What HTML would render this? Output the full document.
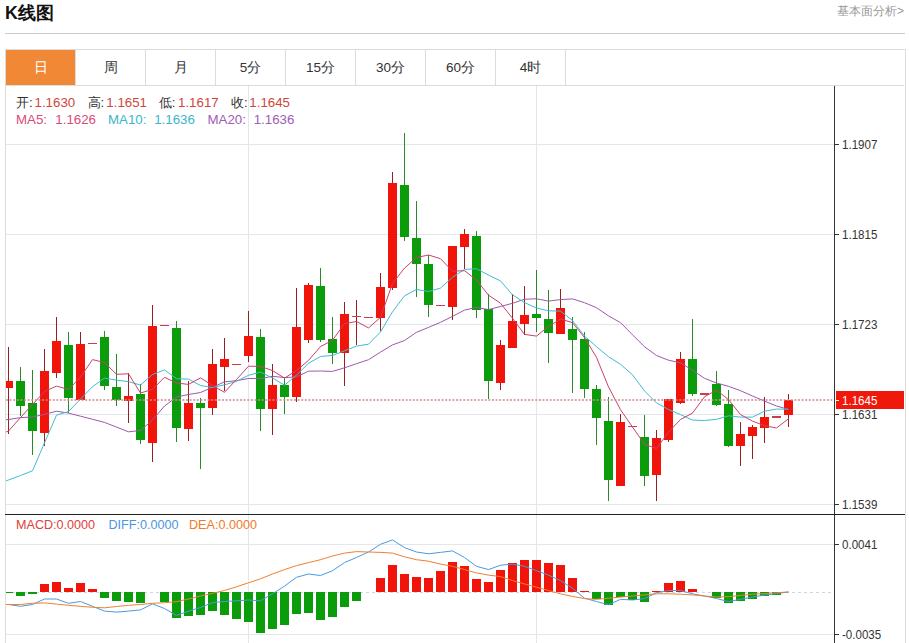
<!DOCTYPE html>
<html><head><meta charset="utf-8"><style>
html,body{margin:0;padding:0;background:#fff;width:909px;height:643px;overflow:hidden;position:relative;font-family:"Liberation Sans",sans-serif;}
.a{position:absolute;white-space:nowrap;line-height:1;}
#title{left:5px;top:4.5px;font-size:17.8px;font-weight:bold;color:#111;}
#more{left:837px;top:5px;font-size:12px;color:#999;}
#hr{position:absolute;left:5px;top:33px;width:900px;height:1px;background:#cacaca;}
#box{position:absolute;left:5px;top:49px;width:899px;height:600px;border:1px solid #dcdcdc;border-bottom:none;}
.tab{position:absolute;top:50px;height:35px;width:69px;border-right:1px solid #dcdcdc;text-align:center;line-height:35px;font-size:13.5px;color:#333;}
#tabline{position:absolute;left:6px;top:85px;width:898px;height:1px;background:#dcdcdc;}
.lg{font-size:13.3px;}
.ax{font-size:13px;color:#333;transform:scaleX(0.89);transform-origin:0 0;}
svg{position:absolute;left:0;top:0;}
</style></head><body>
<div class="a" id="title">K线图</div>
<div class="a" id="more">基本面分析&gt;</div>
<div id="hr"></div>
<div id="box"></div>
<div class="tab" style="left:6px;background:#f08836;color:#fff;">日</div>
<div class="tab" style="left:76px">周</div>
<div class="tab" style="left:146px">月</div>
<div class="tab" style="left:216px">5分</div>
<div class="tab" style="left:286px">15分</div>
<div class="tab" style="left:356px">30分</div>
<div class="tab" style="left:426px">60分</div>
<div class="tab" style="left:496px">4时</div>
<div id="tabline"></div>
<svg width="909" height="643" viewBox="0 0 909 643" shape-rendering="crispEdges">
<rect x="6" y="144" width="828" height="1" fill="#e3e6ea"/>
<rect x="6" y="234" width="828" height="1" fill="#e3e6ea"/>
<rect x="6" y="324" width="828" height="1" fill="#e3e6ea"/>
<rect x="6" y="414" width="828" height="1" fill="#e3e6ea"/>
<rect x="6" y="504" width="828" height="1" fill="#e3e6ea"/>
<rect x="6" y="544" width="828" height="1" fill="#e3e6ea"/>
<rect x="6" y="634" width="828" height="1" fill="#e3e6ea"/>
<rect x="248" y="86" width="1" height="557" fill="#e3e6ea"/>
<rect x="536" y="86" width="1" height="557" fill="#e3e6ea"/>
<clipPath id="cm"><rect x="6" y="86" width="828" height="428"/></clipPath>
<clipPath id="cd"><rect x="6" y="515" width="828" height="128"/></clipPath>
<g clip-path="url(#cm)">
<rect x="8.0" y="347.4" width="1" height="86.4" fill="#9a2020"/>
<rect x="4.0" y="381.3" width="9" height="6.3" fill="#f0140a"/>
<rect x="20.0" y="366.8" width="1" height="49.5" fill="#2a8a2a"/>
<rect x="16.0" y="381.3" width="9" height="24.5" fill="#0b9c0b"/>
<rect x="32.0" y="370.3" width="1" height="84.6" fill="#2a8a2a"/>
<rect x="28.0" y="402.8" width="9" height="28.2" fill="#0b9c0b"/>
<rect x="44.0" y="349.3" width="1" height="96.2" fill="#9a2020"/>
<rect x="40.0" y="371.4" width="9" height="62.0" fill="#f0140a"/>
<rect x="56.0" y="317.0" width="1" height="60.8" fill="#9a2020"/>
<rect x="52.0" y="340.8" width="9" height="32.2" fill="#f0140a"/>
<rect x="68.0" y="331.9" width="1" height="81.4" fill="#2a8a2a"/>
<rect x="64.0" y="345.3" width="9" height="53.1" fill="#0b9c0b"/>
<rect x="80.0" y="331.9" width="1" height="67.7" fill="#9a2020"/>
<rect x="76.0" y="344.0" width="9" height="55.6" fill="#f0140a"/>
<rect x="88.0" y="343.1" width="9" height="1.2" fill="#c84050"/>
<rect x="104.0" y="331.1" width="1" height="58.5" fill="#2a8a2a"/>
<rect x="100.0" y="337.4" width="9" height="48.5" fill="#0b9c0b"/>
<rect x="116.0" y="353.5" width="1" height="52.3" fill="#2a8a2a"/>
<rect x="112.0" y="387.0" width="9" height="12.6" fill="#0b9c0b"/>
<rect x="128.0" y="372.7" width="1" height="50.3" fill="#9a2020"/>
<rect x="124.0" y="395.8" width="9" height="5.5" fill="#f0140a"/>
<rect x="140.0" y="384.1" width="1" height="60.1" fill="#2a8a2a"/>
<rect x="136.0" y="394.4" width="9" height="45.8" fill="#0b9c0b"/>
<rect x="152.0" y="304.8" width="1" height="157.1" fill="#9a2020"/>
<rect x="148.0" y="325.7" width="9" height="117.2" fill="#f0140a"/>
<rect x="160.0" y="324.6" width="9" height="1.2" fill="#c84050"/>
<rect x="176.0" y="321.2" width="1" height="120.3" fill="#2a8a2a"/>
<rect x="172.0" y="327.8" width="9" height="100.5" fill="#0b9c0b"/>
<rect x="188.0" y="381.0" width="1" height="60.1" fill="#9a2020"/>
<rect x="184.0" y="402.8" width="9" height="26.3" fill="#f0140a"/>
<rect x="200.0" y="397.8" width="1" height="71.3" fill="#2a8a2a"/>
<rect x="196.0" y="402.8" width="9" height="4.8" fill="#0b9c0b"/>
<rect x="212.0" y="348.9" width="1" height="66.2" fill="#9a2020"/>
<rect x="208.0" y="363.7" width="9" height="44.7" fill="#f0140a"/>
<rect x="224.0" y="337.7" width="1" height="53.1" fill="#9a2020"/>
<rect x="220.0" y="359.3" width="9" height="7.8" fill="#f0140a"/>
<rect x="232.0" y="363.8" width="9" height="1.2" fill="#c84050"/>
<rect x="248.0" y="310.7" width="1" height="51.7" fill="#9a2020"/>
<rect x="244.0" y="335.9" width="9" height="19.6" fill="#f0140a"/>
<rect x="260.0" y="328.9" width="1" height="102.0" fill="#2a8a2a"/>
<rect x="256.0" y="337.3" width="9" height="71.3" fill="#0b9c0b"/>
<rect x="272.0" y="363.8" width="1" height="71.3" fill="#9a2020"/>
<rect x="268.0" y="384.8" width="9" height="23.8" fill="#f0140a"/>
<rect x="284.0" y="377.3" width="1" height="36.9" fill="#2a8a2a"/>
<rect x="280.0" y="384.8" width="9" height="12.0" fill="#0b9c0b"/>
<rect x="296.0" y="288.4" width="1" height="113.2" fill="#9a2020"/>
<rect x="292.0" y="327.0" width="9" height="69.8" fill="#f0140a"/>
<rect x="308.0" y="282.7" width="1" height="60.3" fill="#9a2020"/>
<rect x="304.0" y="285.0" width="9" height="55.0" fill="#f0140a"/>
<rect x="320.0" y="268.2" width="1" height="74.1" fill="#2a8a2a"/>
<rect x="316.0" y="286.2" width="9" height="53.3" fill="#0b9c0b"/>
<rect x="332.0" y="317.3" width="1" height="46.7" fill="#2a8a2a"/>
<rect x="328.0" y="339.3" width="9" height="13.5" fill="#0b9c0b"/>
<rect x="344.0" y="301.9" width="1" height="83.6" fill="#9a2020"/>
<rect x="340.0" y="313.5" width="9" height="39.0" fill="#f0140a"/>
<rect x="356.0" y="299.9" width="1" height="45.4" fill="#9a2020"/>
<rect x="352.0" y="316.2" width="9" height="1.2" fill="#c84050"/>
<rect x="364.0" y="316.5" width="9" height="1.2" fill="#c84050"/>
<rect x="380.0" y="273.2" width="1" height="57.3" fill="#9a2020"/>
<rect x="376.0" y="287.1" width="9" height="30.9" fill="#f0140a"/>
<rect x="392.0" y="171.7" width="1" height="118.3" fill="#9a2020"/>
<rect x="388.0" y="182.9" width="9" height="105.1" fill="#f0140a"/>
<rect x="404.0" y="133.0" width="1" height="108.0" fill="#2a8a2a"/>
<rect x="400.0" y="184.6" width="9" height="52.1" fill="#0b9c0b"/>
<rect x="416.0" y="201.4" width="1" height="95.6" fill="#2a8a2a"/>
<rect x="412.0" y="237.5" width="9" height="26.2" fill="#0b9c0b"/>
<rect x="428.0" y="255.0" width="1" height="62.0" fill="#2a8a2a"/>
<rect x="424.0" y="264.4" width="9" height="40.4" fill="#0b9c0b"/>
<rect x="436.0" y="304.8" width="9" height="1.2" fill="#c84050"/>
<rect x="452.0" y="245.7" width="1" height="74.3" fill="#9a2020"/>
<rect x="448.0" y="245.7" width="9" height="61.3" fill="#f0140a"/>
<rect x="464.0" y="229.0" width="1" height="39.9" fill="#9a2020"/>
<rect x="460.0" y="234.0" width="9" height="12.6" fill="#f0140a"/>
<rect x="476.0" y="230.6" width="1" height="87.8" fill="#2a8a2a"/>
<rect x="472.0" y="236.2" width="9" height="73.8" fill="#0b9c0b"/>
<rect x="488.0" y="294.0" width="1" height="104.9" fill="#2a8a2a"/>
<rect x="484.0" y="309.4" width="9" height="71.6" fill="#0b9c0b"/>
<rect x="500.0" y="340.2" width="1" height="49.3" fill="#9a2020"/>
<rect x="496.0" y="345.3" width="9" height="37.5" fill="#f0140a"/>
<rect x="512.0" y="293.6" width="1" height="54.8" fill="#9a2020"/>
<rect x="508.0" y="321.0" width="9" height="27.4" fill="#f0140a"/>
<rect x="524.0" y="286.1" width="1" height="48.6" fill="#9a2020"/>
<rect x="520.0" y="314.8" width="9" height="9.4" fill="#f0140a"/>
<rect x="536.0" y="269.5" width="1" height="62.7" fill="#2a8a2a"/>
<rect x="532.0" y="314.3" width="9" height="4.0" fill="#0b9c0b"/>
<rect x="548.0" y="289.6" width="1" height="73.0" fill="#2a8a2a"/>
<rect x="544.0" y="319.4" width="9" height="13.2" fill="#0b9c0b"/>
<rect x="560.0" y="289.1" width="1" height="45.3" fill="#9a2020"/>
<rect x="556.0" y="308.1" width="9" height="26.3" fill="#f0140a"/>
<rect x="572.0" y="316.7" width="1" height="76.7" fill="#2a8a2a"/>
<rect x="568.0" y="328.6" width="9" height="11.0" fill="#0b9c0b"/>
<rect x="584.0" y="332.0" width="1" height="65.6" fill="#2a8a2a"/>
<rect x="580.0" y="339.0" width="9" height="50.2" fill="#0b9c0b"/>
<rect x="596.0" y="385.0" width="1" height="60.2" fill="#2a8a2a"/>
<rect x="592.0" y="389.2" width="9" height="28.3" fill="#0b9c0b"/>
<rect x="608.0" y="397.4" width="1" height="104.0" fill="#2a8a2a"/>
<rect x="604.0" y="421.2" width="9" height="59.1" fill="#0b9c0b"/>
<rect x="620.0" y="414.2" width="1" height="71.3" fill="#9a2020"/>
<rect x="616.0" y="421.9" width="9" height="63.6" fill="#f0140a"/>
<rect x="628.0" y="425.6" width="9" height="1.2" fill="#c84050"/>
<rect x="644.0" y="414.9" width="1" height="71.3" fill="#2a8a2a"/>
<rect x="640.0" y="437.1" width="9" height="38.6" fill="#0b9c0b"/>
<rect x="656.0" y="430.3" width="1" height="71.1" fill="#9a2020"/>
<rect x="652.0" y="438.3" width="9" height="37.0" fill="#f0140a"/>
<rect x="668.0" y="398.6" width="1" height="43.7" fill="#9a2020"/>
<rect x="664.0" y="398.6" width="9" height="41.0" fill="#f0140a"/>
<rect x="680.0" y="352.3" width="1" height="52.1" fill="#9a2020"/>
<rect x="676.0" y="358.9" width="9" height="44.2" fill="#f0140a"/>
<rect x="692.0" y="319.3" width="1" height="76.7" fill="#2a8a2a"/>
<rect x="688.0" y="358.9" width="9" height="35.2" fill="#0b9c0b"/>
<rect x="700.0" y="393.4" width="9" height="1.2" fill="#c84050"/>
<rect x="716.0" y="370.5" width="1" height="35.9" fill="#2a8a2a"/>
<rect x="712.0" y="383.5" width="9" height="21.4" fill="#0b9c0b"/>
<rect x="728.0" y="390.0" width="1" height="56.7" fill="#2a8a2a"/>
<rect x="724.0" y="403.8" width="9" height="42.2" fill="#0b9c0b"/>
<rect x="740.0" y="422.0" width="1" height="44.0" fill="#9a2020"/>
<rect x="736.0" y="434.0" width="9" height="12.0" fill="#f0140a"/>
<rect x="752.0" y="424.5" width="1" height="34.1" fill="#9a2020"/>
<rect x="748.0" y="426.6" width="9" height="9.2" fill="#f0140a"/>
<rect x="764.0" y="397.0" width="1" height="46.0" fill="#9a2020"/>
<rect x="760.0" y="416.8" width="9" height="10.7" fill="#f0140a"/>
<rect x="772.0" y="416.3" width="9" height="1.2" fill="#c84050"/>
<rect x="788.0" y="394.0" width="1" height="33.0" fill="#9a2020"/>
<rect x="784.0" y="399.9" width="9" height="15.2" fill="#f0140a"/>
<polyline shape-rendering="geometricPrecision" points="-3.5,420.5 8.5,419.5 20.5,417.6 32.5,417.0 44.5,414.4 56.5,411.2 68.5,413.1 80.5,416.2 92.5,419.3 104.5,422.4 116.5,427.1 128.5,431.8 140.5,430.5 152.5,420.0 164.5,406.0 176.5,397.0 188.5,394.5 200.5,392.5 212.5,387.3 224.5,381.8 236.5,380.7 248.5,378.5 260.5,378.6 272.5,376.3 284.5,377.6 296.5,376.9 308.5,371.2 320.5,371.0 332.5,371.4 344.5,367.8 356.5,363.7 368.5,359.7 380.5,352.1 392.5,344.9 404.5,340.5 416.5,332.3 428.5,327.4 440.5,322.3 452.5,316.4 464.5,310.1 476.5,307.4 488.5,309.6 500.5,306.5 512.5,303.3 524.5,299.2 536.5,298.8 548.5,301.1 560.5,299.6 572.5,298.9 584.5,302.7 596.5,307.7 608.5,315.9 620.5,322.6 632.5,334.8 644.5,346.7 656.5,355.5 668.5,360.2 680.5,362.8 692.5,370.3 704.5,378.3 716.5,383.0 728.5,386.3 740.5,390.7 752.5,396.0 764.5,401.1 776.5,406.0 788.5,409.4" fill="none" stroke="#9c5aa8" stroke-width="1"/>
<polyline shape-rendering="geometricPrecision" points="-3.5,484.0 8.5,480.0 20.5,475.5 32.5,470.8 44.5,442.8 56.5,415.2 68.5,411.5 80.5,399.1 92.5,386.7 104.5,378.1 116.5,380.2 128.5,381.6 140.5,385.1 152.5,374.5 164.5,369.9 176.5,378.7 188.5,379.1 200.5,385.5 212.5,387.5 224.5,384.8 236.5,381.3 248.5,375.3 260.5,372.1 272.5,378.0 284.5,385.2 296.5,375.1 308.5,363.3 320.5,356.5 332.5,355.4 344.5,350.8 356.5,346.1 368.5,344.2 380.5,332.0 392.5,311.8 404.5,295.8 416.5,289.5 428.5,291.5 440.5,288.1 452.5,277.3 464.5,269.4 476.5,268.7 488.5,275.1 500.5,280.9 512.5,294.8 524.5,302.6 536.5,308.0 548.5,310.8 560.5,311.1 572.5,320.5 584.5,336.0 596.5,346.7 608.5,356.7 620.5,364.3 632.5,374.8 644.5,390.9 656.5,402.9 668.5,409.5 680.5,414.6 692.5,420.1 704.5,420.5 716.5,419.3 728.5,415.8 740.5,417.1 752.5,417.1 764.5,411.2 776.5,409.1 788.5,409.2" fill="none" stroke="#40bcd0" stroke-width="1"/>
<polyline shape-rendering="geometricPrecision" points="-3.5,436.0 8.5,431.0 20.5,417.6 32.5,404.5 44.5,391.5 56.5,386.1 68.5,389.5 80.5,377.1 92.5,359.6 104.5,362.5 116.5,374.3 128.5,373.8 140.5,393.0 152.5,389.4 164.5,377.3 176.5,383.0 188.5,384.4 200.5,377.9 212.5,385.5 224.5,392.3 236.5,379.5 248.5,366.2 260.5,366.4 272.5,370.6 284.5,378.1 296.5,370.6 308.5,360.4 320.5,346.6 332.5,340.2 344.5,323.6 356.5,321.5 368.5,327.9 380.5,317.4 392.5,283.4 404.5,268.1 416.5,257.5 428.5,255.0 440.5,258.7 452.5,271.2 464.5,270.7 476.5,280.0 488.5,295.2 500.5,303.2 512.5,318.3 524.5,334.4 536.5,336.1 548.5,326.4 560.5,319.0 572.5,322.7 584.5,337.6 596.5,357.4 608.5,386.9 620.5,409.7 632.5,427.0 644.5,444.3 656.5,448.5 668.5,432.1 680.5,419.5 692.5,413.1 704.5,396.8 716.5,390.1 728.5,399.6 740.5,414.6 752.5,421.1 764.5,425.7 776.5,428.0 788.5,418.8" fill="none" stroke="#cc4070" stroke-width="1"/>
</g>
<line shape-rendering="geometricPrecision" x1="6" y1="400" x2="834" y2="400" stroke="#d08890" stroke-width="1.6" stroke-dasharray="2,1.6"/>
<g clip-path="url(#cd)">
<line x1="6" y1="592.5" x2="834" y2="592.5" stroke="#c8d8e6" stroke-width="1" stroke-dasharray="3,3"/>
<rect x="4.0" y="592.3" width="9" height="1.0" fill="#0b9c0b"/>
<rect x="16.0" y="592.3" width="9" height="3.3" fill="#0b9c0b"/>
<rect x="28.0" y="592.3" width="9" height="1.3" fill="#0b9c0b"/>
<rect x="40.0" y="584.1" width="9" height="8.2" fill="#f0140a"/>
<rect x="52.0" y="582.3" width="9" height="10.0" fill="#f0140a"/>
<rect x="64.0" y="588.1" width="9" height="4.2" fill="#f0140a"/>
<rect x="76.0" y="583.3" width="9" height="9.0" fill="#f0140a"/>
<rect x="88.0" y="588.9" width="9" height="3.4" fill="#f0140a"/>
<rect x="100.0" y="592.3" width="9" height="5.5" fill="#0b9c0b"/>
<rect x="112.0" y="592.3" width="9" height="9.0" fill="#0b9c0b"/>
<rect x="124.0" y="592.3" width="9" height="9.8" fill="#0b9c0b"/>
<rect x="136.0" y="592.3" width="9" height="10.5" fill="#0b9c0b"/>
<rect x="160.0" y="592.3" width="9" height="10.0" fill="#0b9c0b"/>
<rect x="172.0" y="592.3" width="9" height="25.5" fill="#0b9c0b"/>
<rect x="184.0" y="592.3" width="9" height="23.3" fill="#0b9c0b"/>
<rect x="196.0" y="592.3" width="9" height="22.6" fill="#0b9c0b"/>
<rect x="208.0" y="592.3" width="9" height="19.1" fill="#0b9c0b"/>
<rect x="220.0" y="592.3" width="9" height="22.4" fill="#0b9c0b"/>
<rect x="232.0" y="592.3" width="9" height="26.4" fill="#0b9c0b"/>
<rect x="244.0" y="592.3" width="9" height="30.1" fill="#0b9c0b"/>
<rect x="256.0" y="592.3" width="9" height="40.4" fill="#0b9c0b"/>
<rect x="268.0" y="592.3" width="9" height="36.3" fill="#0b9c0b"/>
<rect x="280.0" y="592.3" width="9" height="32.3" fill="#0b9c0b"/>
<rect x="292.0" y="592.3" width="9" height="21.3" fill="#0b9c0b"/>
<rect x="304.0" y="592.3" width="9" height="20.2" fill="#0b9c0b"/>
<rect x="316.0" y="592.3" width="9" height="27.5" fill="#0b9c0b"/>
<rect x="328.0" y="592.3" width="9" height="24.2" fill="#0b9c0b"/>
<rect x="340.0" y="592.3" width="9" height="14.7" fill="#0b9c0b"/>
<rect x="352.0" y="592.3" width="9" height="8.5" fill="#0b9c0b"/>
<rect x="376.0" y="577.7" width="9" height="14.6" fill="#f0140a"/>
<rect x="388.0" y="565.2" width="9" height="27.1" fill="#f0140a"/>
<rect x="400.0" y="573.6" width="9" height="18.7" fill="#f0140a"/>
<rect x="412.0" y="576.9" width="9" height="15.4" fill="#f0140a"/>
<rect x="424.0" y="577.7" width="9" height="14.6" fill="#f0140a"/>
<rect x="436.0" y="570.7" width="9" height="21.6" fill="#f0140a"/>
<rect x="448.0" y="562.1" width="9" height="30.2" fill="#f0140a"/>
<rect x="460.0" y="565.9" width="9" height="26.4" fill="#f0140a"/>
<rect x="472.0" y="578.8" width="9" height="13.5" fill="#f0140a"/>
<rect x="484.0" y="581.7" width="9" height="10.6" fill="#f0140a"/>
<rect x="496.0" y="570.0" width="9" height="22.3" fill="#f0140a"/>
<rect x="508.0" y="563.0" width="9" height="29.3" fill="#f0140a"/>
<rect x="520.0" y="560.1" width="9" height="32.2" fill="#f0140a"/>
<rect x="532.0" y="560.1" width="9" height="32.2" fill="#f0140a"/>
<rect x="544.0" y="562.6" width="9" height="29.7" fill="#f0140a"/>
<rect x="556.0" y="565.2" width="9" height="27.1" fill="#f0140a"/>
<rect x="568.0" y="577.7" width="9" height="14.6" fill="#f0140a"/>
<rect x="580.0" y="590.5" width="9" height="1.8" fill="#f0140a"/>
<rect x="592.0" y="592.3" width="9" height="7.0" fill="#0b9c0b"/>
<rect x="604.0" y="592.3" width="9" height="12.5" fill="#0b9c0b"/>
<rect x="616.0" y="592.3" width="9" height="4.8" fill="#0b9c0b"/>
<rect x="628.0" y="592.3" width="9" height="7.7" fill="#0b9c0b"/>
<rect x="640.0" y="592.3" width="9" height="9.2" fill="#0b9c0b"/>
<rect x="652.0" y="591.0" width="9" height="1.3" fill="#f0140a"/>
<rect x="664.0" y="583.2" width="9" height="9.1" fill="#f0140a"/>
<rect x="676.0" y="581.3" width="9" height="11.0" fill="#f0140a"/>
<rect x="688.0" y="589.0" width="9" height="3.3" fill="#f0140a"/>
<rect x="712.0" y="592.3" width="9" height="5.4" fill="#0b9c0b"/>
<rect x="724.0" y="592.3" width="9" height="10.8" fill="#0b9c0b"/>
<rect x="736.0" y="592.3" width="9" height="8.5" fill="#0b9c0b"/>
<rect x="748.0" y="592.3" width="9" height="6.2" fill="#0b9c0b"/>
<rect x="760.0" y="592.3" width="9" height="3.9" fill="#0b9c0b"/>
<rect x="772.0" y="592.3" width="9" height="2.4" fill="#0b9c0b"/>
<polyline shape-rendering="geometricPrecision" points="-3.5,604.5 8.5,604.5 20.5,606.3 32.5,604.5 44.5,599.0 56.5,599.0 68.5,603.3 80.5,601.5 92.5,606.3 104.5,611.1 116.5,612.1 128.5,611.1 140.5,609.9 152.5,603.9 164.5,608.5 176.5,615.4 188.5,611.1 200.5,607.5 212.5,602.6 224.5,601.5 236.5,600.8 248.5,600.0 260.5,600.8 272.5,593.8 284.5,586.1 296.5,577.3 308.5,574.0 320.5,575.5 332.5,570.7 344.5,562.6 356.5,557.5 368.5,552.0 380.5,544.3 392.5,539.9 404.5,547.6 416.5,552.0 428.5,553.8 440.5,552.4 452.5,550.9 464.5,557.5 476.5,566.3 488.5,569.6 500.5,565.2 512.5,564.1 524.5,566.3 536.5,570.7 548.5,575.1 560.5,580.6 572.5,588.3 584.5,598.2 596.5,601.5 608.5,604.8 620.5,599.3 632.5,600.0 644.5,598.6 656.5,592.7 668.5,590.5 680.5,590.5 692.5,593.8 704.5,596.0 716.5,598.5 728.5,601.6 740.5,599.3 752.5,597.0 764.5,595.1 776.5,593.6 788.5,592.0" fill="none" stroke="#4a9ae0" stroke-width="1"/>
<polyline shape-rendering="geometricPrecision" points="-3.5,604.5 8.5,604.5 20.5,604.5 32.5,603.3 44.5,602.9 56.5,604.1 68.5,605.3 80.5,606.3 92.5,607.3 104.5,607.8 116.5,606.5 128.5,605.3 140.5,604.5 152.5,603.3 164.5,602.7 176.5,601.7 188.5,599.0 200.5,596.0 212.5,593.4 224.5,590.5 236.5,586.8 248.5,582.8 260.5,578.8 272.5,574.0 284.5,569.6 296.5,565.6 308.5,562.6 320.5,559.7 332.5,556.0 344.5,553.1 356.5,551.6 368.5,552.0 380.5,552.4 392.5,553.1 404.5,556.8 416.5,559.7 428.5,561.2 440.5,564.1 452.5,566.3 464.5,569.6 476.5,572.9 488.5,575.1 500.5,576.6 512.5,580.6 524.5,583.9 536.5,587.2 548.5,590.5 560.5,593.8 572.5,596.4 584.5,598.6 596.5,599.3 608.5,598.2 620.5,597.1 632.5,596.0 644.5,594.9 656.5,593.8 668.5,593.8 680.5,594.2 692.5,594.9 704.5,596.0 716.5,597.0 728.5,596.7 740.5,595.4 752.5,594.2 764.5,593.6 776.5,592.8 788.5,591.9" fill="none" stroke="#f08030" stroke-width="1"/>
</g>
<rect x="834" y="86" width="1" height="557" fill="#333"/>
<rect x="5" y="514" width="900" height="1" fill="#222"/>
<rect x="834" y="144" width="5" height="1" fill="#333"/>
<rect x="834" y="234" width="5" height="1" fill="#333"/>
<rect x="834" y="324" width="5" height="1" fill="#333"/>
<rect x="834" y="414" width="5" height="1" fill="#333"/>
<rect x="834" y="504" width="5" height="1" fill="#333"/>
<rect x="834" y="544" width="5" height="1" fill="#333"/>
<rect x="834" y="634" width="5" height="1" fill="#333"/>
<rect x="836" y="391" width="68" height="18" fill="#f0180a"/>
<rect x="835" y="400" width="4" height="1" fill="#fff"/>
</svg>
<div class="a lg" style="left:16px;top:96px;color:#333">开:</div><div class="a lg" style="left:34.5px;top:96px;color:#d0463c">1.1630</div>
<div class="a lg" style="left:87.5px;top:96px;color:#333">高:</div><div class="a lg" style="left:106.3px;top:96px;color:#d0463c">1.1651</div>
<div class="a lg" style="left:158.8px;top:96px;color:#333">低:</div><div class="a lg" style="left:178px;top:96px;color:#d0463c">1.1617</div>
<div class="a lg" style="left:231px;top:96px;color:#333">收:</div><div class="a lg" style="left:249.3px;top:96px;color:#d0463c">1.1645</div>
<div class="a lg" style="left:16px;top:113px;color:#dc4a7a">MA5:</div><div class="a lg" style="left:55.3px;top:113px;color:#dc4a7a">1.1626</div>
<div class="a lg" style="left:108px;top:113px;color:#3cb6c8">MA10:</div><div class="a lg" style="left:154.2px;top:113px;color:#3cb6c8">1.1636</div>
<div class="a lg" style="left:207.5px;top:113px;color:#a05cb8">MA20:</div><div class="a lg" style="left:253.7px;top:113px;color:#a05cb8">1.1636</div>
<div class="a" style="left:16px;top:519px;font-size:12.6px;color:#e04040">MACD:0.0000</div>
<div class="a" style="left:108.5px;top:519px;font-size:12.6px;color:#4a96e0">DIFF:0.0000</div>
<div class="a" style="left:189px;top:519px;font-size:12.6px;color:#f07a28">DEA:0.0000</div>
<div class="a ax" style="left:842px;top:138px">1.1907</div>
<div class="a ax" style="left:842px;top:228px">1.1815</div>
<div class="a ax" style="left:842px;top:318px">1.1723</div>
<div class="a ax" style="left:842px;top:408px">1.1631</div>
<div class="a ax" style="left:842px;top:498px">1.1539</div>
<div class="a ax" style="left:842px;top:538px">0.0041</div>
<div class="a ax" style="left:842px;top:628px">-0.0035</div>
<div class="a ax" style="left:842px;top:394px;color:#fff">1.1645</div>
</body></html>
